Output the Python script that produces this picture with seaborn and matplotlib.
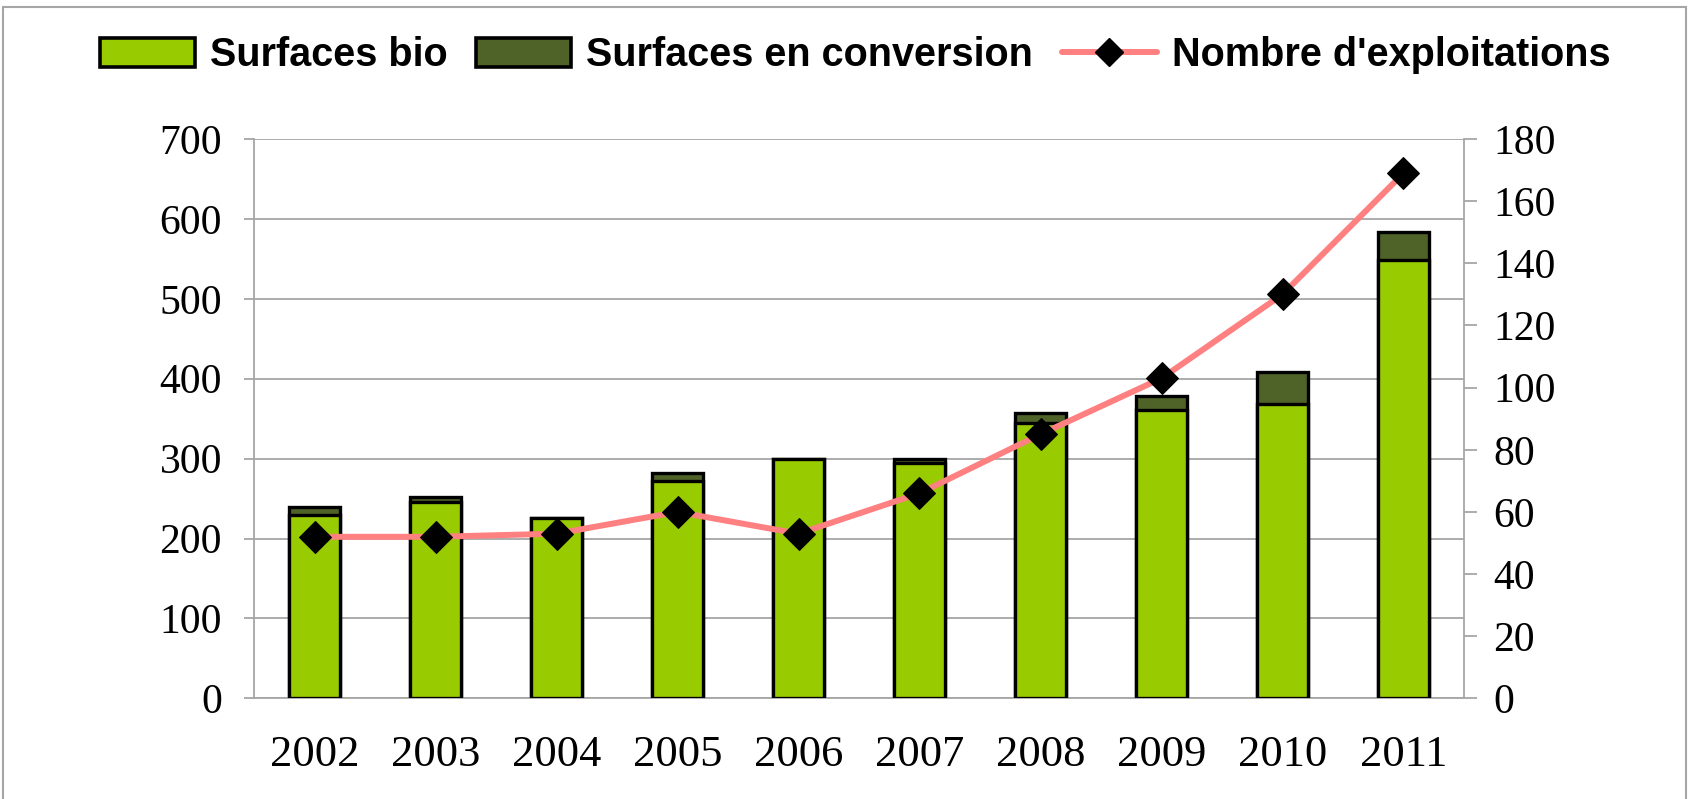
import numpy as np
import pandas as pd
import matplotlib
matplotlib.use("Agg")
import matplotlib.pyplot as plt
from matplotlib.patches import Rectangle, Patch
from matplotlib.lines import Line2D
import seaborn as sns

years = ["2002", "2003", "2004", "2005", "2006", "2007", "2008", "2009", "2010", "2011"]
surfaces_bio = [229, 246, 226, 272, 300, 295, 344, 361, 369, 548]
surfaces_conversion = [11, 6, 0, 10, 0, 5, 13, 17, 39, 35]
nombre_exploitations = [52, 52, 53, 60, 53, 66, 85, 103, 130, 169]
left_ticks = [0, 100, 200, 300, 400, 500, 600, 700]
right_ticks = [0, 20, 40, 60, 80, 100, 120, 140, 160, 180]

label_bio = "Surfaces bio"
label_conv = "Surfaces en conversion"
label_nb = "Nombre d'exploitations"

green = "#99CC00"
dark = "#4F6228"
salmon = "#FF8080"
gray = "#A6A6A6"

sns.set_style("white")
plt.rcParams["font.family"] = ["Liberation Serif", "DejaVu Serif"]
plt.rcParams["text.color"] = "black"
plt.rcParams["xtick.labelcolor"] = "black"
plt.rcParams["ytick.labelcolor"] = "black"

df = pd.DataFrame({
    "year": years,
    "bio": surfaces_bio,
    "total": np.array(surfaces_bio) + np.array(surfaces_conversion),
    "farms": nombre_exploitations,
})

fig = plt.figure(figsize=(16.9, 7.99), dpi=100)
ax = fig.add_axes([254 / 1690, (799 - 698.4) / 799, (1464 - 254) / 1690, (698.4 - 139) / 799])

sns.barplot(data=df, x="year", y="total", color=dark, edgecolor="black",
            linewidth=2.4, width=0.42, saturation=1, ax=ax, zorder=2)
sns.barplot(data=df, x="year", y="bio", color=green, edgecolor="black",
            linewidth=2.4, width=0.42, saturation=1, ax=ax, zorder=3)

ax.set_xlim(-0.5, len(years) - 0.5)
ax.set_ylim(0, 700)
ax.set_yticks(left_ticks)
ax.set_xlabel("")
ax.set_ylabel("")
ax.set_axisbelow(True)
ax.yaxis.grid(True, color=gray, linewidth=1.3)
ax.xaxis.grid(False)
for s in ["top", "right"]:
    ax.spines[s].set_visible(False)
ax.spines["left"].set_color(gray)
ax.spines["bottom"].set_color(gray)
ax.spines["left"].set_linewidth(1.3)
ax.spines["bottom"].set_linewidth(1.3)

ax.set_xticks(np.arange(len(years)))
ax.set_xticklabels(years)
ax.set_xticks(np.arange(len(years) + 1) - 0.5, minor=True)
ax.tick_params(axis="x", which="major", length=0, pad=26, labelsize=32, labelcolor="black")
ax.tick_params(axis="x", which="minor", length=9, width=1.3, color=gray, direction="out")
ax.tick_params(axis="y", which="major", left=True, length=7, width=1.3, color=gray,
               direction="out", pad=16, labelsize=30, labelcolor="black")

ax2 = ax.twinx()
sns.lineplot(x=np.arange(len(years)), y=nombre_exploitations, ax=ax2, color=salmon,
             linewidth=4.3, marker="D", markersize=16, markerfacecolor="black",
             markeredgecolor="black", zorder=5)
ax2.set_ylim(0, 180)
ax2.set_yticks(right_ticks)
ax2.set_xlim(-0.5, len(years) - 0.5)
for s in ["top", "left", "bottom"]:
    ax2.spines[s].set_visible(False)
ax2.spines["right"].set_color(gray)
ax2.spines["right"].set_linewidth(1.3)
ax2.tick_params(axis="y", which="major", right=True, length=9, width=1.3, color=gray,
                direction="out", pad=12, labelsize=30, labelcolor="black")
ax2.grid(False)

handles = [
    Patch(facecolor=green, edgecolor="black", linewidth=2.6, label=label_bio),
    Patch(facecolor=dark, edgecolor="black", linewidth=2.6, label=label_conv),
    Line2D([0], [0], color=salmon, linewidth=4.3, marker="D", markersize=14,
           markerfacecolor="black", markeredgecolor="black", label=label_nb),
]
fig.legend(handles=handles, loc="center", bbox_to_anchor=(0.506, 1 - 55 / 799), ncol=3,
           frameon=False, handlelength=2.4, handleheight=0.75, handletextpad=0.38,
           columnspacing=0.72,
           prop={"family": "Liberation Sans", "weight": "bold", "size": 28.5})

fig.patches.append(Rectangle((3 / 1690, -0.01), 1683 / 1690, 1 - 7 / 799 + 0.01,
                             transform=fig.transFigure, fill=False, edgecolor=gray,
                             linewidth=1.5, figure=fig))

fig.savefig("out.png", dpi=100)
